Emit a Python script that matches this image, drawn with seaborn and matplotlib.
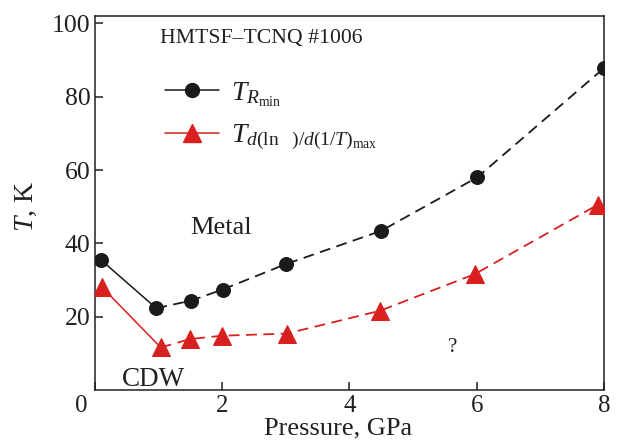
import matplotlib
matplotlib.use("Agg")
import matplotlib.pyplot as plt
from matplotlib.lines import Line2D
import seaborn as sns

# Pressure (GPa) and characteristic temperatures (K)
pressure_rmin = [0.1, 0.97, 1.52, 2.01, 3.0, 4.5, 6.01, 8.0]
t_rmin = [35.5, 22.3, 24.4, 27.4, 34.3, 43.4, 58.0, 87.8]

pressure_dmax = [0.12, 1.04, 1.5, 2.0, 3.02, 4.48, 5.97, 7.9]
t_dmax = [28.0, 11.6, 13.9, 14.8, 15.4, 21.6, 31.6, 50.5]

x_ticks = [0, 2, 4, 6, 8]
y_ticks = [20, 40, 60, 80, 100]

sns.set_theme(style="ticks")
plt.rcParams["font.family"] = ["Liberation Serif", "DejaVu Serif"]
plt.rcParams["mathtext.fontset"] = "custom"
plt.rcParams["mathtext.rm"] = "Liberation Serif"
plt.rcParams["mathtext.it"] = "Liberation Serif:italic"
plt.rcParams["mathtext.bf"] = "Liberation Serif:bold"

BLACK = "#1a1a1a"
RED = "#d8201e"
TXT = "#231f20"

fig = plt.figure(figsize=(6.19, 4.42), dpi=100)
ax = fig.add_axes([0.1527, 0.1176, 0.9758 - 0.1527, 0.9638 - 0.1176])

dash = (6, 3.6)
for xs, ys, col in [(pressure_rmin, t_rmin, BLACK), (pressure_dmax, t_dmax, RED)]:
    # solid segment in the CDW region, dashed beyond the minimum
    sns.lineplot(x=xs[:2], y=ys[:2], color=col, lw=1.1, sort=False, ax=ax)
    sns.lineplot(x=xs[1:], y=ys[1:], color=col, lw=1.3, sort=False, ax=ax,
                 linestyle=(0, dash))

sns.lineplot(x=pressure_rmin, y=t_rmin, color=BLACK, marker="o", markersize=10,
             markeredgecolor=BLACK, linestyle="none", sort=False, ax=ax, zorder=5)
sns.lineplot(x=pressure_dmax, y=t_dmax, color=RED, marker="^", markersize=13,
             markeredgecolor=RED, linestyle="none", sort=False, ax=ax, zorder=5)

ax.set_xlim(0, 8)
ax.set_ylim(0, 102)
ax.set_xticks(x_ticks)
# the origin label sits at the corner, set slightly left of the axis
ax.set_xticklabels([""] + [str(v) for v in x_ticks[1:]])
ax.set_yticks(y_ticks)
ax.set_yticklabels([str(v) for v in y_ticks])

for side in ["left", "right", "top", "bottom"]:
    ax.spines[side].set_visible(True)
    ax.spines[side].set_color(TXT)
    ax.spines[side].set_linewidth(1.1)
ax.tick_params(axis="both", direction="in", length=6, width=1.1, color=TXT,
               labelsize=18.5, labelcolor=TXT)
ax.tick_params(axis="y", pad=3)
ax.tick_params(axis="x", pad=3.5, labelsize=18)
ax.tick_params(top=False, right=False)

ax.annotate(str(x_ticks[0]), xy=(0, 0), xycoords="axes fraction",
            xytext=(-13, -5), textcoords="offset pixels",
            ha="center", va="top", fontsize=18, color=TXT)

ax.set_xlabel("Pressure, GPa", fontsize=19, color=TXT)
ax.set_ylabel(r"$T$, K", fontsize=20, color=TXT)
ax.xaxis.set_label_coords(0.478, -0.073)
ax.yaxis.set_label_coords(-0.109, 0.49)

ax.text(1.03, 96, "HMTSF\u2013TCNQ #1006", fontsize=15.7, color=TXT,
        ha="left", va="center")
ax.text(1.5, 44.2, "Metal", fontsize=19, color=TXT, ha="left", va="center")
ax.text(0.43, 3.0, "CDW", fontsize=19.5, color=TXT, ha="left", va="center")
ax.text(5.62, 11.7, "?", fontsize=15, color=TXT, ha="center", va="center")

handles = [
    Line2D([], [], color=BLACK, lw=1.1, marker="o", markersize=10),
    Line2D([], [], color=RED, lw=1.1, marker="^", markersize=13),
]
labels = [
    r"$T_{R_{\mathrm{min}}}$",
    r"$T_{d(\mathrm{ln}\ \ \ )/d(1/T)_{\mathrm{max}}}$",
]
ax.legend(handles, labels, loc="upper left", bbox_to_anchor=(0.138, 0.829),
          frameon=False, fontsize=20, handlelength=1.95, handletextpad=0.42,
          labelspacing=0.5, labelcolor=TXT, borderaxespad=0, borderpad=0)

fig.savefig("out.png", dpi=100)
